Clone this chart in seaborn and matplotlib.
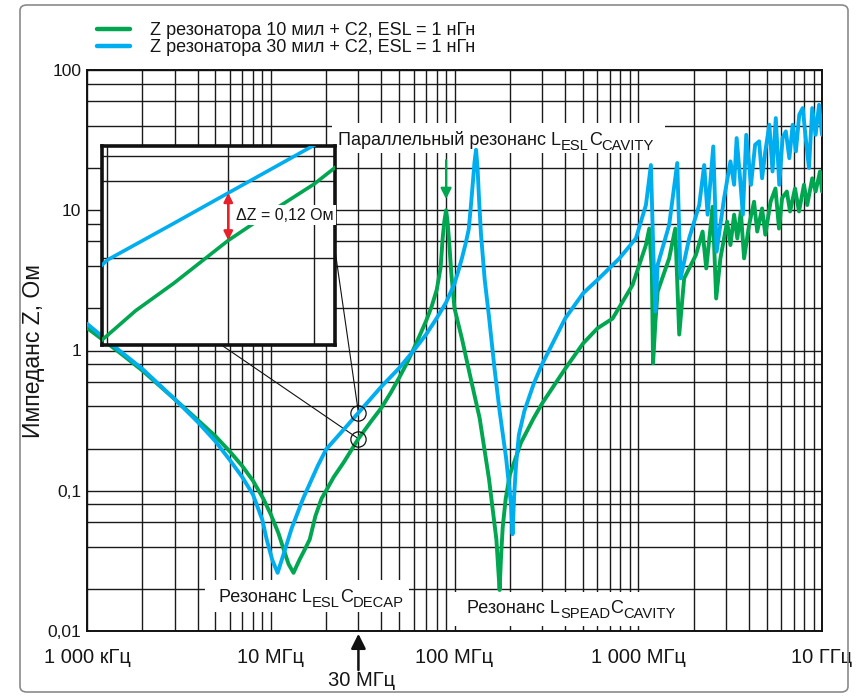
import numpy as np
import matplotlib
matplotlib.use("Agg")
import matplotlib.pyplot as plt
import seaborn as sns
import pandas as pd
from matplotlib.patches import FancyBboxPatch, ConnectionPatch, Rectangle
from matplotlib.lines import Line2D
from matplotlib.ticker import FixedLocator, NullFormatter, FixedFormatter

# ---------------- data (frequency in MHz, impedance in Ohm) ----------------
green_label = "Z резонатора 10 мил + C2, ESL = 1 нГн"
blue_label = "Z резонатора 30 мил + C2, ESL = 1 нГн"

green_f = [1.0, 1.5, 2.0, 3.0, 4.0, 5.0, 6.0, 7.0, 8.0, 9.1, 10.0, 11.0, 11.7, 12.5,
           13.3, 14.3, 15.3, 16.3, 17.5, 18.9, 20.0, 22.0, 25.0, 30.0, 35.0, 40.0,
           45.0, 50.0, 55.0, 60.0, 65.0, 70.0, 75.0, 80.0, 84.0, 86.2, 88.0, 90.0,
           91.5, 93.5, 96.0, 100.0, 110.0, 121.0, 137.0, 154.0, 169.0, 176.0, 179.0,
           183.0, 190.0, 200.0, 230.0, 270.0, 300.0, 400.0, 500.0, 600.0, 725, 931,
           1101, 1148, 1186, 1204, 1240, 1275, 1473, 1590, 1671, 1778, 2060, 2240,
           2345, 2540, 2655, 2800, 3045, 3175, 3325, 3460, 3617, 3767, 4010, 4268,
           4440, 4720, 4915, 5250, 5580, 5836, 6065, 6435, 6700, 7130, 7497, 7980,
           8310, 8850, 9230, 9750, 10000]
green_z = [1.45, 0.97, 0.72, 0.45, 0.32, 0.245, 0.19, 0.15, 0.118, 0.088, 0.068, 0.05,
           0.039, 0.03, 0.026, 0.032, 0.038, 0.045, 0.066, 0.088, 0.1, 0.125, 0.16,
           0.235, 0.31, 0.39, 0.5, 0.64, 0.81, 1.03, 1.3, 1.62, 2.05, 2.7, 3.9, 6.3,
           8.3, 10.0, 8.5, 6.0, 3.6, 2.0, 1.2, 0.68, 0.33, 0.122, 0.045, 0.0196,
           0.033, 0.055, 0.088, 0.13, 0.22, 0.33, 0.42, 0.74, 1.12, 1.44, 1.69, 2.93,
           5.65, 7.4, 3.65, 0.81, 1.6, 2.63, 4.54, 7.4, 1.3, 3.27, 4.8, 7.05, 3.85,
           10.6, 2.35, 4.54, 8.3, 5.65, 9.3, 6.3, 9.8, 4.54, 7.85, 11.5, 7.05, 10.3,
           6.7, 11.5, 14.3, 7.4, 12.2, 13.6, 9.8, 14.3, 9.8, 15.2, 10.9, 16.9, 13.6,
           18.9, 13.6]

blue_f = [1.0, 1.5, 2.0, 3.0, 4.0, 5.0, 6.0, 7.0, 8.0, 9.0, 9.5, 10.2, 10.9, 11.8,
          13.0, 15.0, 18.0, 20.0, 25.0, 30.0, 35.0, 40.0, 50.0, 60.0, 70.0, 80.0,
          90.0, 100.0, 105.0, 110.0, 115.0, 119.5, 123.0, 126.0, 128.5, 131.0, 133.5,
          136.0, 139.3, 146.0, 154.0, 165.0, 176.0, 191.0, 203.0, 207.0, 211.0,
          216.0, 224.0, 240.0, 270.0, 300.0, 400.0, 500.0, 612, 790, 971, 1101,
          1172, 1211, 1240, 1275, 1473, 1630, 1700, 1892, 2147, 2285, 2385, 2560,
          2670, 2932, 3175, 3325, 3432, 3582, 3710, 3870, 4108, 4325, 4548, 4720,
          4915, 5170, 5380, 5605, 5855, 6100, 6355, 6640, 6925, 7210, 7520, 7850,
          8190, 8493, 8850, 9230, 9637, 10000]
blue_z = [1.55, 1.0, 0.74, 0.45, 0.31, 0.225, 0.165, 0.125, 0.094, 0.062, 0.045,
          0.032, 0.026, 0.036, 0.054, 0.088, 0.15, 0.197, 0.274, 0.36, 0.453, 0.553,
          0.75, 1.0, 1.3, 1.7, 2.2, 3.0, 3.7, 4.6, 5.8, 7.3, 11.0, 16.0, 22.0, 27.0,
          20.0, 12.0, 6.8, 3.2, 1.75, 0.75, 0.37, 0.17, 0.08, 0.049, 0.09, 0.15,
          0.25, 0.37, 0.58, 0.8, 1.69, 2.55, 3.27, 4.54, 6.3, 10.9, 21.0, 4.5, 1.9,
          4.07, 7.85, 21.7, 3.27, 6.3, 10.9, 21.0, 9.3, 28.5, 5.07, 12.2, 22.3, 15.2,
          32.7, 16.9, 9.3, 34.5, 15.2, 29.3, 31.0, 16.9, 26.3, 40.7, 18.9, 45.4, 15.2,
          32.7, 36.5, 23.5, 40.7, 26.3, 48.0, 53.5, 31.0, 20.0, 53.5, 34.5, 56.5,
          34.5]

x_major = [1, 10, 100, 1000, 10000]
x_tick_labels = ["1 000 кГц", "10 МГц", "100 МГц", "1 000 МГц", "10 ГГц"]
y_major = [0.01, 0.1, 1, 10, 100]
y_tick_labels = ["0,01", "0,1", "1", "10", "100"]
y_minor_mult = [2, 4, 6, 8]
x_minor_mult = [2, 3, 4, 5, 6, 7, 8, 9]

marker_f = 30.0       # MHz, point zoomed in the inset
parallel_f = 90.0     # MHz, green parallel resonance marked by the arrow

GREEN = "#00a650"
BLUE = "#00aeef"
GRID = "#1a1a1a"
TXT = "#161616"

# ---------------- style ----------------
sns.set_theme(style="white")
plt.rcParams['font.family'] = ['Liberation Sans', 'DejaVu Sans']

df = pd.concat([
    pd.DataFrame({"f": green_f, "z": green_z, "s": green_label}),
    pd.DataFrame({"f": blue_f, "z": blue_z, "s": blue_label}),
], ignore_index=True)
palette = {green_label: GREEN, blue_label: BLUE}

W, H = 861, 698
fig = plt.figure(figsize=(W / 100, H / 100), dpi=100)
fig.patch.set_facecolor("white")


def fx(px):
    return px / W


def fy(py):
    return 1 - py / H


AX_L, AX_R, AX_T, AX_B = 87, 822, 70, 631
ax = fig.add_axes([fx(AX_L), fy(AX_B), fx(AX_R) - fx(AX_L), fy(AX_T) - fy(AX_B)])
ax.set_xscale("log")
ax.set_yscale("log")
sns.lineplot(data=df, x="f", y="z", hue="s", palette=palette, sort=False,
             estimator=None, lw=2.8, ax=ax, legend=False, zorder=4)
ax.set_xlim(1, 10000)
ax.set_ylim(0.01, 100)

xminor = [m * d for d in x_major[:-1] for m in x_minor_mult]
yminor = [m * d for d in y_major[:-1] for m in y_minor_mult]
ax.xaxis.set_major_locator(FixedLocator(x_major))
ax.xaxis.set_major_formatter(FixedFormatter(x_tick_labels))
ax.xaxis.set_minor_locator(FixedLocator(xminor))
ax.xaxis.set_minor_formatter(NullFormatter())
ax.yaxis.set_major_locator(FixedLocator(y_major))
ax.yaxis.set_major_formatter(FixedFormatter(y_tick_labels))
ax.yaxis.set_minor_locator(FixedLocator(yminor))
ax.yaxis.set_minor_formatter(NullFormatter())
ax.grid(True, which="both", color=GRID, lw=1.0)
ax.set_axisbelow(True)
ax.tick_params(axis="x", which="both", length=0, pad=12, labelsize=14.5, colors=TXT)
ax.tick_params(axis="y", which="major", length=3, width=1, pad=1, labelsize=12.5,
               colors=TXT, direction="out")
ax.tick_params(axis="y", which="minor", length=0)
for sp in ax.spines.values():
    sp.set_color("#111")
    sp.set_linewidth(1.4)
ax.set_xlabel("")
ax.set_ylabel("Импеданс Z, Ом", fontsize=16.5, color=TXT)
ax.yaxis.set_label_coords((34 - AX_L) / (AX_R - AX_L), 0.5)
ax.yaxis.label.set_verticalalignment("center")


# ---------------- helpers ----------------
def z_at(fs, zs, f):
    return float(10 ** np.interp(np.log10(f), np.log10(fs), np.log10(zs)))


g30 = z_at(green_f, green_z, marker_f)
b30 = z_at(blue_f, blue_z, marker_f)
gpk = z_at(green_f, green_z, parallel_f)


def rich_label(x_px, base_px, parts, box_px):
    """parts: list of (text, fontsize, baseline offset px (down))"""
    bx0, by0, bx1, by1 = box_px
    ax.add_patch(Rectangle((fx(bx0), fy(by1)), fx(bx1) - fx(bx0), fy(by0) - fy(by1),
                           transform=fig.transFigure, facecolor="white",
                           edgecolor="none", zorder=2.5, clip_on=False))
    first = None
    prev = None
    for s, size, dy in parts:
        if first is None:
            t = ax.text(fx(x_px), fy(base_px + dy), s, transform=fig.transFigure,
                        ha="left", va="baseline", fontsize=size, color=TXT, zorder=3)
            first = t
        else:
            t = ax.annotate(s, xy=(1, 0), xycoords=(prev, first),
                            xytext=(0, -dy), textcoords="offset pixels",
                            ha="left", va="bottom", fontsize=size, color=TXT,
                            zorder=3, annotation_clip=False)
        prev = t


MAIN, SUB = 13, 10.6
rich_label(338, 145, [("Параллельный резонанс L", MAIN, 0), ("ESL", SUB, 4),
                      ("C", MAIN, 0), ("CAVITY", SUB, 4)], (332, 123, 665, 153))
rich_label(219, 602, [("Резонанс L", MAIN, 0), ("ESL", SUB, 4),
                      ("C", MAIN, 0), ("DECAP", SUB, 4)], (205, 580, 409, 612))
rich_label(467, 613, [("Резонанс L", MAIN, 0), ("SPEAD", SUB, 4),
                      ("C", MAIN, 0), ("CAVITY", SUB, 4)], (450, 592, 692, 626))

# circles at 30 MHz
ax.plot([marker_f, marker_f], [b30, g30], ls="none", marker="o", ms=11,
        mfc="none", mec="#111", mew=0.9, zorder=5)

# connector lines to inset
con1 = ConnectionPatch(xyA=(marker_f, g30), coordsA=ax.transData,
                       xyB=(fx(103), fy(264)), coordsB=fig.transFigure,
                       color="#111", lw=0.8, zorder=3.5)
con2 = ConnectionPatch(xyA=(marker_f, b30), coordsA=ax.transData,
                       xyB=(fx(335), fy(250)), coordsB=fig.transFigure,
                       color="#111", lw=0.8, zorder=3.5)
ax.add_artist(con1)
ax.add_artist(con2)

# green arrow at the parallel resonance
ax.annotate("", xy=(parallel_f, gpk), xycoords="data", xytext=(0, 50),
            textcoords="offset pixels",
            arrowprops=dict(arrowstyle="-|>", color=GREEN, lw=1.6,
                            mutation_scale=16, shrinkA=0, shrinkB=8), zorder=5)

# 30 MHz arrow below the axis
ax.annotate("", xy=(marker_f, 0.01), xycoords="data", xytext=(0, -39),
            textcoords="offset pixels",
            arrowprops=dict(arrowstyle="-|>", color="#111", lw=1.8,
                            mutation_scale=22, shrinkA=0, shrinkB=2),
            annotation_clip=False)
ax.annotate("30 МГц", xy=(marker_f, 0.01), xycoords="data", xytext=(3, -49),
            textcoords="offset pixels", ha="center", va="center",
            fontsize=14.5, color=TXT, annotation_clip=False)

# ---------------- legend ----------------
handles = [Line2D([], [], color=GREEN, lw=3.2), Line2D([], [], color=BLUE, lw=3.2)]
fig.legend(handles, [green_label, blue_label], loc="upper left",
           bbox_to_anchor=(fx(97), fy(22)), frameon=False, fontsize=13,
           handlelength=1.85, handletextpad=1.1, labelspacing=0.0,
           borderaxespad=0, borderpad=0, labelcolor=TXT)

# ---------------- inset ----------------
axi = fig.add_axes([fx(102), fy(345), fx(335) - fx(102), fy(146) - fy(345)], zorder=10)
axi.set_xscale("log")
axi.set_yscale("log")
sns.lineplot(data=df, x="f", y="z", hue="s", palette=palette, sort=False,
             estimator=None, lw=2.6, ax=axi, legend=False, zorder=4)
axi.set_xlim(19.65, 42.9)
axi.set_ylim(0.0918, 0.549)
axi.xaxis.set_major_locator(FixedLocator([20, 30, 40]))
axi.xaxis.set_minor_locator(FixedLocator([]))
axi.yaxis.set_major_locator(FixedLocator([0.2, 0.4, 0.5]))
axi.yaxis.set_minor_locator(FixedLocator([]))
axi.grid(True, which="major", color=GRID, lw=1.0)
axi.set_axisbelow(True)
axi.set_xticklabels([])
axi.set_yticklabels([])
axi.tick_params(length=0)
axi.set_xlabel("")
axi.set_ylabel("")
axi.set_facecolor("white")
for sp in axi.spines.values():
    sp.set_color("#111")
    sp.set_linewidth(2.6)

axi.annotate("", xy=(marker_f, g30), xytext=(marker_f, b30), xycoords="data",
             arrowprops=dict(arrowstyle="<|-|>", color="#e8202a", lw=1.8,
                             mutation_scale=13, shrinkA=0, shrinkB=0), zorder=6)
axi.text(30.8, 0.295, "ΔZ = 0,12 Ом", ha="left", va="center", fontsize=11.5,
         color=TXT, bbox=dict(facecolor="white", edgecolor="none",
                              boxstyle="square,pad=0.15"), zorder=6)

# ---------------- outer frame ----------------
frame = FancyBboxPatch((fx(20), fy(692)), fx(848) - fx(20), fy(5) - fy(692),
                       boxstyle="round,pad=0,rounding_size=0.008",
                       transform=fig.transFigure, fill=False,
                       edgecolor="#8a8a8a", lw=1.2)
fig.patches.append(frame)

fig.savefig("out.png", dpi=100)
